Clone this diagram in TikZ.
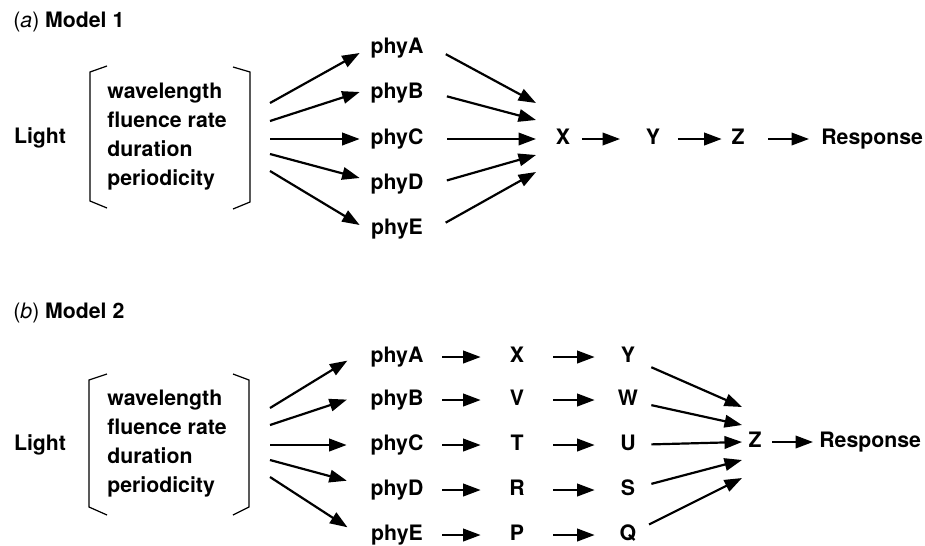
\documentclass[tikz,border=0pt]{standalone}
\usepackage{fontspec}
\setmainfont{TeX Gyre Heros}
\usetikzlibrary{arrows.meta}
\tikzset{
  txt/.style={font=\bfseries\fontsize{12.1}{16.4}\selectfont, inner sep=0pt},
  lbl/.style={txt, text height=9pt, text depth=2.6pt},
  phya/.style={lbl, minimum width=1.48cm},
  phyb/.style={lbl, minimum width=1.8cm},
  arr/.style={-{Triangle[length=0.35cm,width=0.25cm]}, line width=1.25pt},
  brk/.style={line width=0.7pt}
}
\begin{document}
\begin{tikzpicture}[x=0.02cm, y=-0.02cm]
    \useasboundingbox (0,0) rectangle (925,545);
    % (a)
    \node[txt, anchor=west] (titleA) at (13,22) {{\mdseries(\textit{a})} Model 1};
    \node[lbl] (lightA) at (40,138) {Light};
    \node[txt, anchor=west, align=left] (paramsA) at (107,136.5) {wavelength\\fluence rate\\duration\\periodicity};
    \draw[brk] (107,66) -- (90,72) -- (90,201) -- (107,208);
    \draw[brk] (233,67) -- (250,72) -- (250,202) -- (233,209);
    \foreach \p/\y/\s/\e/\d in {A/48/103/103/-0.1cm, B/93/121/120/0.02cm, C/139/139/139/0cm, D/184/154/155/0.12cm, E/229/171/172/0.08cm} {
        \node[phya] (aphy\p) at (397,\y) {phy\p};
        \coordinate (fa\p) at (270,\s);
        \coordinate (xa\p) at (536,\e);
        \draw[arr] (fa\p) -- ([yshift=\d]aphy\p.west);
        \draw[arr, shorten <=0.26cm] (aphy\p.east) -- (xa\p);
    }
    \node[lbl] (aX) at (563,139) {X};
    \node[lbl] (aY) at (653,139) {Y};
    \node[lbl] (aZ) at (738,139) {Z};
    \node[lbl, anchor=west] (aResp) at (821,139) {Response};
    \draw[arr, shorten <=0.23cm, shorten >=0.51cm] (aX) -- (aY);
    \draw[arr, shorten <=0.35cm, shorten >=0.19cm] (aY) -- (aZ);
    \draw[arr, shorten <=0.47cm, shorten >=0.24cm] (aZ) -- (aResp);
    % (b)
    \node[txt, anchor=west] (titleB) at (13,313) {{\mdseries(\textit{b})} Model 2};
    \node[lbl] (lightB) at (40,445) {Light};
    \node[txt, anchor=west, align=left] (paramsB) at (107,443.5) {wavelength\\fluence rate\\duration\\periodicity};
    \draw[brk] (107,374) -- (89,380) -- (89,507) -- (107,515);
    \draw[brk] (233,374) -- (249,380) -- (249,507) -- (233,515);
    \foreach \p/\a/\b/\y/\s/\d in {A/X/Y/357/408/-0.02cm, B/V/W/400/425/0.04cm, C/T/U/445/445/0cm, D/R/S/490/460/0.16cm, E/P/Q/535/477/0.1cm} {
        \node[phyb] (bphy\p) at (397,\y) {phy\p};
        \node[lbl, minimum width=1.44cm] (b\a) at (517,\y) {\a};
        \node[lbl, minimum width=0.92cm] (b\b) at (628,\y) {\b};
        \coordinate (fb\p) at (270,\s);
        \draw[arr, shorten >=0.1cm] (fb\p) -- ([yshift=\d]bphy\p.west);
        \draw[arr] (bphy\p) -- (b\a);
        \draw[arr, shorten >=0.2cm] (b\a) -- (b\b);
    }
    \node[lbl] (bZ) at (755,442) {Z};
    \node[lbl, anchor=west] (bResp) at (819,442) {Response};
    \foreach \b/\y in {Y/407, W/425, U/442, S/460, Q/478} {
        \coordinate (zin\b) at (742,\y);
        \draw[arr] (b\b) -- (zin\b);
    }
    \draw[arr, shorten <=0.21cm, shorten >=0.12cm] (bZ) -- (bResp);
\end{tikzpicture}
\end{document}
